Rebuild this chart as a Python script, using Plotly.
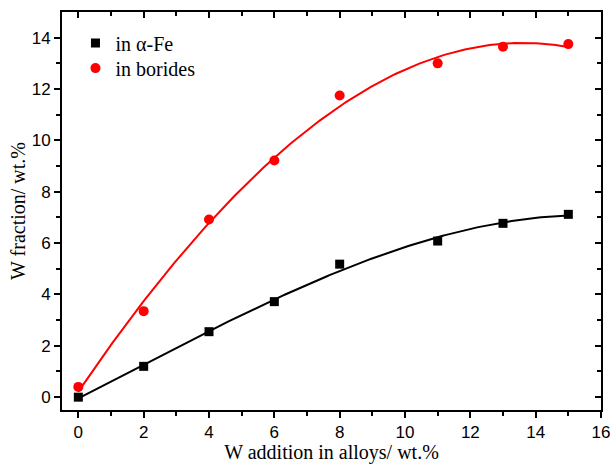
import numpy as np
import plotly.graph_objects as go

x_vals = [0, 2, 4, 6, 8, 11, 13, 15]
fe_vals = [0.0, 1.2, 2.55, 3.72, 5.18, 6.08, 6.77, 7.12]
boride_vals = [0.4, 3.35, 6.92, 9.22, 11.75, 13.0, 13.65, 13.75]
series_names = ["in α-Fe", "in borides"]
series_colors = ["black", "red"]

xf = np.linspace(0, 15, 200)
fit_fe = np.polyval(np.polyfit(x_vals, fe_vals, 3), xf)
fit_b = np.polyval(np.polyfit(x_vals, boride_vals, 3), xf)

fig = go.Figure()
fig.add_trace(go.Scatter(x=xf, y=fit_fe, mode="lines", line=dict(color="black", width=2), showlegend=False))
fig.add_trace(go.Scatter(x=xf, y=fit_b, mode="lines", line=dict(color="red", width=2), showlegend=False))
fig.add_trace(go.Scatter(x=x_vals, y=fe_vals, mode="markers", name=series_names[0], legend="legend",
                         marker=dict(symbol="square", size=9, color=series_colors[0])))
fig.add_trace(go.Scatter(x=x_vals, y=boride_vals, mode="markers", name=series_names[1], legend="legend2",
                         marker=dict(symbol="circle", size=10, color=series_colors[1])))
# invisible trace to activate mirror axes
fig.add_trace(go.Scatter(x=[None], y=[None], xaxis="x2", yaxis="y2", showlegend=False, hoverinfo="skip"))

axis_common = dict(showgrid=False, zeroline=False, linecolor="black", linewidth=2,
                   tickcolor="black", tickwidth=1.5, automargin=False)
legend_common = dict(x=0.025, xanchor="left", yanchor="middle", bgcolor="rgba(0,0,0,0)",
                     font=dict(family="Liberation Serif, Times New Roman", size=20, color="black"),
                     itemwidth=30, tracegroupgap=0)
fig.update_layout(
    width=611, height=464,
    margin=dict(l=62, r=10, t=12, b=54),
    plot_bgcolor="white", paper_bgcolor="white",
    xaxis=dict(range=[-0.5, 16], tickmode="array", tickvals=list(range(0, 17, 2)),
               ticks="outside", ticklen=6,
               minor=dict(tickvals=list(range(1, 16, 2)), ticks="outside", ticklen=4, tickcolor="black", tickwidth=1.5),
               tickfont=dict(family="Liberation Sans, Arial", size=17, color="black"),
               title=dict(text="W addition in alloys/ wt.%", standoff=0,
                          font=dict(family="Liberation Serif, Times New Roman", size=20, color="black")),
               **axis_common),
    yaxis=dict(range=[-0.5, 15], tickmode="array", tickvals=list(range(0, 15, 2)),
               ticks="outside", ticklen=6,
               minor=dict(tickvals=list(range(1, 15, 2)), ticks="outside", ticklen=4, tickcolor="black", tickwidth=1.5),
               tickfont=dict(family="Liberation Sans, Arial", size=17, color="black"),
               title=dict(text="W fraction/ wt.%", standoff=1,
                          font=dict(family="Liberation Serif, Times New Roman", size=20, color="black")),
               **axis_common),
    xaxis2=dict(range=[-0.5, 16], overlaying="x", side="top", anchor="y2",
                tickmode="array", tickvals=list(range(0, 17, 2)), ticks="inside", ticklen=6,
                minor=dict(tickvals=list(range(1, 16, 2)), ticks="inside", ticklen=4, tickcolor="black", tickwidth=1.5),
                showticklabels=False, **axis_common),
    yaxis2=dict(range=[-0.5, 15], overlaying="y", side="right", anchor="x2",
                tickmode="array", tickvals=list(range(0, 15, 2)), ticks="inside", ticklen=6,
                minor=dict(tickvals=list(range(1, 15, 2)), ticks="inside", ticklen=4, tickcolor="black", tickwidth=1.5),
                showticklabels=False, **axis_common),
    legend=dict(y=0.922, **legend_common),
    legend2=dict(y=0.859, **legend_common),
)
fig.write_html("out.html", config={"displayModeBar": False},
               post_script="document.body.style.margin='0';document.body.style.padding='0';document.body.style.overflow='hidden';")
